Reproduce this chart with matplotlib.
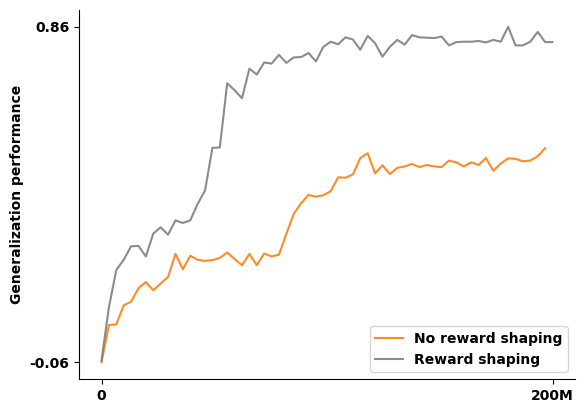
import numpy as np
import matplotlib
matplotlib.use('Agg')
import matplotlib.pyplot as plt

# evaluation points, evenly spaced over training (0 .. 200M steps)
total_steps = 200e6
n_eval = 62
steps = np.linspace(0, total_steps, n_eval)

shaping = [
    -0.055, 0.091, 0.193, 0.221, 0.258, 0.259, 0.230, 0.293, 0.310, 0.290,
    0.329, 0.322, 0.329, 0.374, 0.411, 0.528, 0.529, 0.705, 0.686, 0.664,
    0.745, 0.729, 0.762, 0.759, 0.783, 0.761, 0.776, 0.777, 0.788, 0.765,
    0.805, 0.819, 0.812, 0.831, 0.825, 0.797, 0.835, 0.815, 0.778, 0.805,
    0.824, 0.811, 0.837, 0.831, 0.830, 0.829, 0.833, 0.809, 0.818, 0.819,
    0.819, 0.821, 0.817, 0.824, 0.819, 0.860, 0.809, 0.809, 0.819, 0.846,
    0.818, 0.818,
]

no_shaping = [
    -0.060, 0.042, 0.044, 0.096, 0.106, 0.143, 0.160, 0.137, 0.156, 0.174,
    0.237, 0.195, 0.232, 0.221, 0.218, 0.220, 0.226, 0.241, 0.223, 0.206,
    0.237, 0.206, 0.238, 0.230, 0.235, 0.292, 0.347, 0.376, 0.399, 0.394,
    0.398, 0.409, 0.447, 0.446, 0.455, 0.500, 0.513, 0.458, 0.480, 0.456,
    0.473, 0.477, 0.484, 0.475, 0.481, 0.477, 0.475, 0.493, 0.488, 0.477,
    0.488, 0.481, 0.500, 0.465, 0.485, 0.499, 0.498, 0.491, 0.493, 0.505,
    0.527,
]

fig = plt.figure(figsize=(5.85, 4.13), dpi=100)
ax = fig.add_axes([0.135, 0.0823, 0.848, 0.8935])

ax.plot(steps[:len(no_shaping)], no_shaping, color='#ff7f0e', alpha=0.9, lw=1.5, label='No reward shaping')
ax.plot(steps, shaping, color='#7f7f7f', alpha=0.9, lw=1.5, label='Reward shaping')

lo = min(min(shaping), min(no_shaping))
hi = max(max(shaping), max(no_shaping))
ax.set_yticks([lo, hi])
ax.set_yticklabels(['%.2f' % lo, '%.2f' % hi], fontweight='bold', fontsize=10)
ax.set_xticks([0, total_steps])
ax.set_xticklabels(['0', '200M'], fontweight='bold', fontsize=10)

ax.set_ylabel('Generalization performance', fontweight='bold', fontsize=10)
ax.spines['top'].set_visible(False)
ax.spines['right'].set_visible(False)

leg = ax.legend(loc='lower right', prop={'weight': 'bold', 'size': 10})

fig.savefig('out.png', dpi=100)
